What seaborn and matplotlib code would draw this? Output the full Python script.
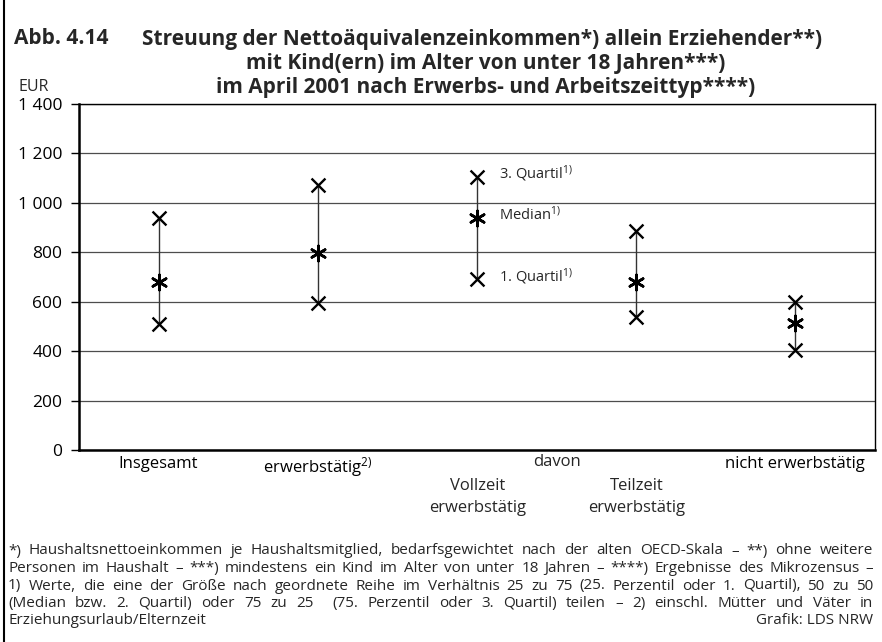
import pandas as pd
import seaborn as sns
import matplotlib.pyplot as plt

# Werte in EUR
groups = ['Insgesamt', 'erwerbstätig', 'Vollzeit', 'Teilzeit', 'nicht erwerbstätig']
q1 = [510, 596, 691, 540, 405]
median = [681, 798, 937, 679, 513]
q3 = [937, 1072, 1106, 886, 600]

yticks = [0, 200, 400, 600, 800, 1000, 1200, 1400]
ytick_labels = ['0', '200', '400', '600', '800', '1 000', '1 200', '1 400']

footnotes = [
    '*) Haushaltsnettoeinkommen je Haushaltsmitglied, bedarfsgewichtet nach der alten OECD-Skala – **) ohne weitere',
    'Personen im Haushalt – ***) mindestens ein Kind im Alter von unter 18 Jahren – ****) Ergebnisse des Mikrozensus –',
    '1) Werte, die eine der Größe nach geordnete Reihe im Verhältnis 25 zu 75 (25. Perzentil oder 1. Quartil), 50 zu 50',
    '(Median bzw. 2. Quartil) oder 75 zu 25  (75. Perzentil oder 3. Quartil) teilen – 2) einschl. Mütter und Väter in',
    'Erziehungsurlaub/Elternzeit',
]

sns.set_theme(style='white')
plt.rcParams['font.family'] = ['Open Sans', 'DejaVu Sans']
plt.rcParams['mathtext.fontset'] = 'custom'
plt.rcParams['mathtext.rm'] = 'Open Sans'
plt.rcParams['mathtext.it'] = 'Open Sans'

W, H = 882, 642

df = pd.DataFrame({'group': groups, 'pos': range(len(groups)),
                   'Q1': q1, 'Median': median, 'Q3': q3})
df_long = df.melt(id_vars=['group', 'pos'], value_vars=['Q1', 'Median', 'Q3'],
                  var_name='stat', value_name='eur')

fig = plt.figure(figsize=(W / 100, H / 100), dpi=100)
ax = fig.add_axes([79 / W, 1 - 450 / H, (875 - 79) / W, (450 - 104) / H])

ax.vlines(df['pos'], df['Q1'], df['Q3'], color='#333333', lw=1.0, zorder=2)
sns.scatterplot(data=df_long[df_long['stat'] != 'Median'], x='pos', y='eur',
                marker='x', s=100, color='black', linewidth=1.7, ax=ax,
                legend=False, zorder=3)
sns.scatterplot(data=df_long[df_long['stat'] == 'Median'], x='pos', y='eur',
                marker=(6, 2, 0), s=120, color='black', linewidth=1.9, ax=ax,
                legend=False, zorder=3)

ax.set_xlim(-0.5, len(groups) - 0.5)
ax.set_ylim(0, 1400)
ax.set_yticks(yticks)
ax.set_yticklabels(ytick_labels, fontsize=12.5, color='black')
ax.tick_params(axis='y', length=6, width=1, color='black', left=True, pad=6)
ax.yaxis.grid(True, color='#4d4d4d', lw=0.9)
ax.set_axisbelow(True)
ax.set_xlabel('')
ax.set_ylabel('')

ax.set_xticks([0, 1, 4])
ax.set_xticklabels(['Insgesamt', 'erwerbstätig$^{2)}$', 'nicht erwerbstätig'],
                   fontsize=12, color='black')
ax.tick_params(axis='x', length=0, pad=4)

for side in ['top', 'right']:
    ax.spines[side].set_color('black')
    ax.spines[side].set_linewidth(1.0)
for side in ['left', 'bottom']:
    ax.spines[side].set_color('black')
    ax.spines[side].set_linewidth(1.8)

fig.text(557 / W, 1 - 462 / H, 'davon', ha='center', va='center', fontsize=12)
for x, lab in [(478, 'Vollzeit'), (637, 'Teilzeit')]:
    fig.text(x / W, 1 - 486 / H, lab, ha='center', va='center', fontsize=12)
    fig.text(x / W, 1 - 508 / H, 'erwerbstätig', ha='center', va='center', fontsize=12)

# Beschriftung der Kennwerte neben Vollzeit
ax.text(2.14, q3[2] + 10, '3. Quartil$^{1)}$', va='center', fontsize=10.5)
ax.text(2.14, median[2] + 15, 'Median$^{1)}$', va='center', fontsize=10.5)
ax.text(2.14, q1[2] + 10, '1. Quartil$^{1)}$', va='center', fontsize=10.5)

tsize = 15
fig.text(14 / W, 1 - 39 / H, 'Abb. 4.14', fontsize=tsize, fontweight='bold', va='center')
fig.text(822 / W, 1 - 39 / H,
         'Streuung der Nettoäquivalenzeinkommen*) allein Erziehender**)',
         fontsize=tsize, fontweight='bold', va='center', ha='right')
fig.text(486 / W, 1 - 63 / H, 'mit Kind(ern) im Alter von unter 18 Jahren***)',
         fontsize=tsize, fontweight='bold', va='center', ha='center')
fig.text(486 / W, 1 - 87 / H, 'im April 2001 nach Erwerbs- und Arbeitszeittyp****)',
         fontsize=tsize, fontweight='bold', va='center', ha='center')
fig.text(34 / W, 1 - 87 / H, 'EUR', fontsize=11.5, va='center', ha='center')

# Fussnoten im Blocksatz: Wort fuer Wort setzen
renderer = fig.canvas.get_renderer()
fsize = 11
x0, x1 = 8, 873
for i, line in enumerate(footnotes):
    y = 1 - (551 + i * 17.5) / H
    if i == len(footnotes) - 1:
        fig.text(x0 / W, y, line, fontsize=fsize, va='center')
        continue
    words = line.split(' ')
    arts = [fig.text(0, y, w, fontsize=fsize, va='center') for w in words]
    widths = [a.get_window_extent(renderer).width for a in arts]
    gap = (x1 - x0 - sum(widths)) / (len(words) - 1)
    x = x0
    for a, w in zip(arts, widths):
        a.set_x(x / W)
        x += w + gap
fig.text(x1 / W, 1 - (551 + 4 * 17.5) / H, 'Grafik: LDS NRW', fontsize=fsize,
         va='center', ha='right')

fig.add_artist(plt.Line2D([4 / W, 4 / W], [0, 1], transform=fig.transFigure,
                          color='black', lw=1.5))

fig.savefig('out.png', dpi=100)
